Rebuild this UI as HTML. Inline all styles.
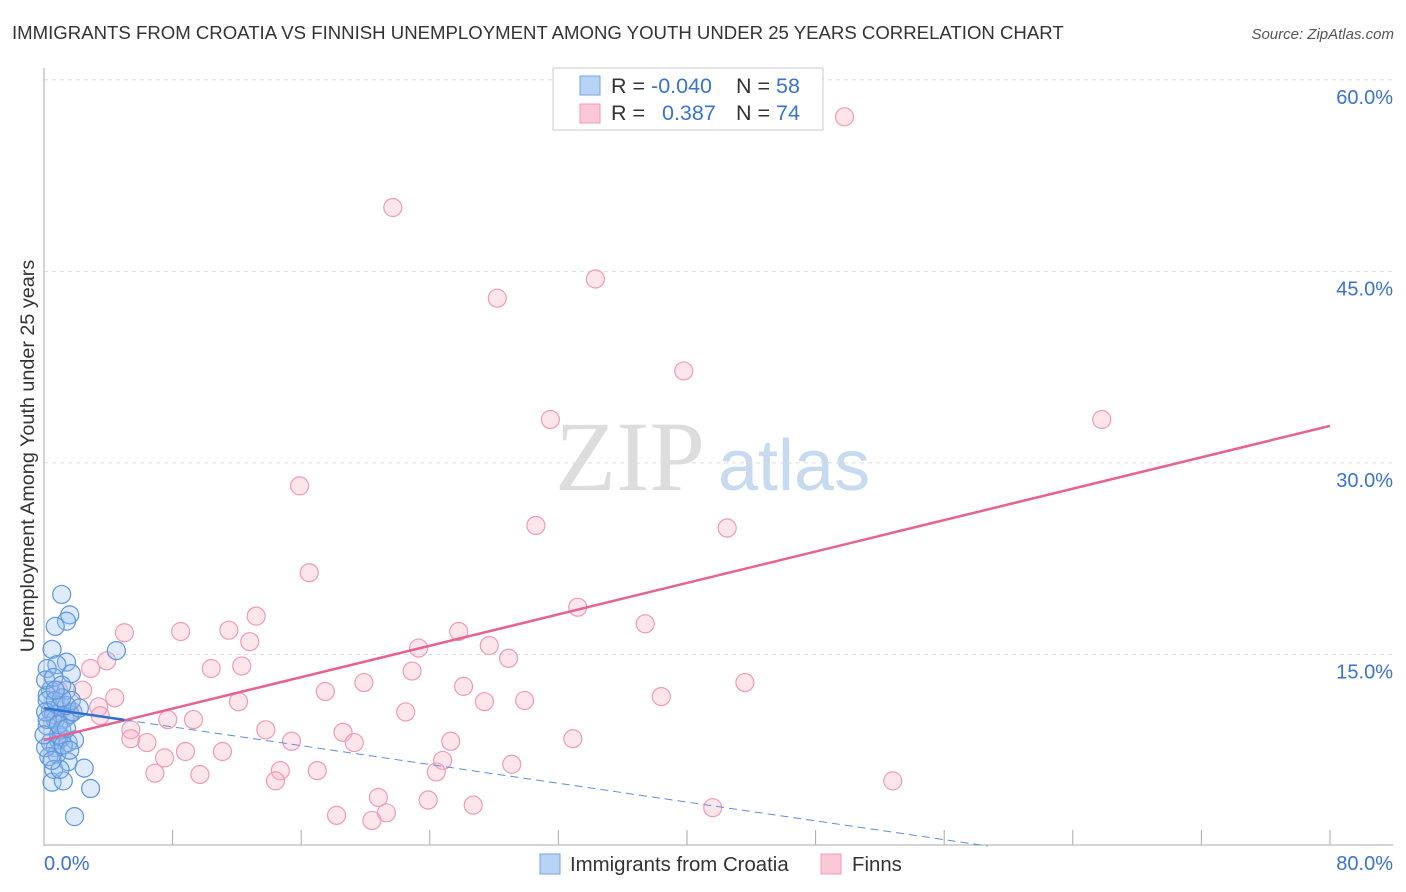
<!DOCTYPE html>
<html><head><meta charset="utf-8"><style>
body{margin:0;background:#fff;font-family:"Liberation Sans",sans-serif;}
#wrap{position:relative;width:1406px;height:892px;overflow:hidden;}
</style></head><body>
<div id="wrap">
<svg id="svg" width="1406" height="892" xmlns="http://www.w3.org/2000/svg">
<text x="12" y="39" font-size="18.6" fill="#333">IMMIGRANTS FROM CROATIA VS FINNISH UNEMPLOYMENT AMONG YOUTH UNDER 25 YEARS CORRELATION CHART</text>
<text x="1394" y="39" font-size="15" fill="#555" font-style="italic" text-anchor="end">Source: ZipAtlas.com</text>
<text x="555" y="490" font-size="100" fill="#ddd" font-family="Liberation Serif,serif">ZIP</text>
<text x="718" y="490" font-size="72" fill="#c8daf0">atlas</text>
<text transform="translate(34,456) rotate(-90)" font-size="19.8" fill="#333" text-anchor="middle">Unemployment Among Youth under 25 years</text>
<g id="grid"></g><g id="pts"></g><g id="lines"></g>
<g>
<rect x="553" y="68" width="270" height="62" fill="#fff" stroke="#ccc"/>
<rect x="580" y="76" width="20" height="19" fill="#b8d3f5" stroke="#6fa4e6"/>
<rect x="580" y="104" width="20" height="19" fill="#fcc8d8" stroke="#f09ab5"/>
<text x="611" y="93" font-size="21.5" fill="#333">R = <tspan fill="#3a72d0">-0.040</tspan></text>
<text x="736" y="93" font-size="21.5" fill="#333">N = <tspan fill="#3a72d0">58</tspan></text>
<text x="611" y="120" font-size="21.5" fill="#333">R = </text>
<text x="662" y="120" font-size="21.5" fill="#3a72d0">0.387</text>
<text x="736" y="120" font-size="21.5" fill="#333">N = <tspan fill="#3a72d0">74</tspan></text>
</g>
<g>
<rect x="540" y="854" width="20" height="20" fill="#b8d3f5" stroke="#6fa4e6"/>
<text x="570" y="871" font-size="20.4" fill="#333">Immigrants from Croatia</text>
<rect x="821" y="854" width="20" height="20" fill="#fcc8d8" stroke="#f09ab5"/>
<text x="852" y="871" font-size="20.4" fill="#333">Finns</text>
</g>
</svg>
</div>
<script>
const xTicks=[0,8,16,24,32,40,48,56,64,72,80];
const yTicks=[15,30,45,60];
const yTickLabels=["15.0%","30.0%","45.0%","60.0%"];
const xEndLabels=["0.0%","80.0%"];
const croatiaX=[1.1,1.6,1.4,0.7,0.5,4.5,1.4,0.8,1.7,0.2,0.4,0.2,1.4,0.4,0.6,1.0,1.3,1.6,0.7,1.8,0.2,0.4,0.7,0.9,1.1,1.5,1.9,0.8,1.5,2.5,0.5,1.2,2.9,1.9,0.2,0.1,0.7,1.1,0.9,1.2,0.3,0.6,1.0,0.1,0.6,1.1,1.4,1.7,2.2,0.1,0.5,1.6,0.2,0.9,0.0,1.1,1.4,0.7];
const croatiaY=[19.7,18.1,17.6,17.2,15.4,15.3,14.4,14.2,13.5,13.9,12.2,11.8,12.2,10.6,10.3,11.0,10.0,10.3,9.9,10.5,9.4,8.1,7.7,8.3,8.5,8.1,8.3,7.2,6.6,6.1,5.0,5.1,4.5,2.3,11.4,10.5,11.4,9.1,8.7,7.9,7.0,6.0,6.0,13.0,13.2,12.6,11.0,11.4,10.8,7.7,6.7,7.5,9.9,9.5,8.7,11.6,9.2,12.2];
const finnsX=[49.8,21.7,34.3,28.2,39.8,31.5,65.8,15.9,30.6,42.5,16.5,33.2,13.2,37.4,5.0,8.5,11.5,12.8,25.8,23.3,27.7,10.4,12.3,2.9,3.9,28.9,22.9,19.9,26.1,43.6,2.4,4.4,17.5,12.1,27.4,29.9,38.4,3.4,22.5,7.7,9.3,5.4,13.8,18.6,32.9,5.4,6.4,15.4,19.3,25.3,11.1,8.8,7.5,24.8,29.1,6.9,9.7,14.7,17.0,24.4,14.4,52.8,20.8,23.9,26.7,41.6,18.2,21.3,20.4,0.5,1.0,1.6,3.5,0.9];
const finnsY=[57.1,50.0,44.4,42.9,37.2,33.4,33.4,28.2,25.1,24.9,21.4,18.7,18.0,17.4,16.7,16.8,16.9,16.0,16.8,15.5,15.7,13.9,14.1,13.9,14.5,14.7,13.7,12.8,12.5,12.8,12.2,11.6,12.1,11.3,11.3,11.4,11.7,10.9,10.5,9.9,9.9,9.1,9.1,8.9,8.4,8.4,8.1,8.2,8.1,8.2,7.4,7.4,6.9,6.7,6.4,5.7,5.6,5.9,5.9,5.8,5.1,5.1,3.8,3.6,3.2,3.0,2.4,2.6,2.0,9.9,10.6,10.5,10.2,12.2];
const finnsTrend=[8.3,32.9];      // y at x=0 and x=80
const croatiaTrend=[10.8,-0.184]; // intercept, slope
const croatiaSolidEnd=5;
const NS="http://www.w3.org/2000/svg";
const X=v=>44+v*(1286/80), Y=v=>846-v*12.77;
function mk(tag,attrs,parent){const e=document.createElementNS(NS,tag);for(const k in attrs)e.setAttribute(k,attrs[k]);parent.appendChild(e);return e;}
const grid=document.getElementById('grid'),pts=document.getElementById('pts'),lines=document.getElementById('lines');
yTicks.forEach((t,i)=>{
 const l=mk('line',{x1:44,x2:1393,y1:Y(t),y2:Y(t),stroke:'#ddd','stroke-dasharray':'4,4'},grid);
 
 
 const tx=mk('text',{x:1393,y:Y(t)+24,'font-size':20,fill:'#3a72d0','text-anchor':'end'},grid);
 tx.textContent=yTickLabels[i];
 
 
});
const ax=mk('line',{x1:44,x2:44,y1:68,y2:846,stroke:'#aaa'},grid);


const bx=mk('line',{x1:44,x2:1393,y1:845,y2:845,stroke:'#aaa'},grid);


xTicks.forEach(t=>{
 const l=mk('line',{x1:X(t),x2:X(t),y1:830,y2:845,stroke:'#aaa'},grid);
 
 
});
const xl0=mk('text',{x:44,y:870,'font-size':20,fill:'#3a72d0'},grid);xl0.textContent=xEndLabels[0];


const xl1=mk('text',{x:1393,y:870,'font-size':20,fill:'#3a72d0','text-anchor':'end'},grid);xl1.textContent=xEndLabels[1];


finnsX.forEach((v,i)=>{
 const c=mk('circle',{cx:X(v),cy:Y(finnsY[i]),r:9,fill:'rgba(248,180,200,0.35)',stroke:'#f09ab5','stroke-width':1.2},pts);
 
 
});
croatiaX.forEach((v,i)=>{
 const c=mk('circle',{cx:X(v),cy:Y(croatiaY[i]),r:9,fill:'rgba(150,190,240,0.3)',stroke:'#5b96de','stroke-width':1.2},pts);
 
 
});
const pl=mk('line',{x1:X(0),y1:Y(finnsTrend[0]),x2:X(80),y2:Y(finnsTrend[1]),stroke:'#e8628f','stroke-width':2.5},lines);


const zeroX=-croatiaTrend[0]/croatiaTrend[1];
const bd=mk('line',{x1:X(croatiaSolidEnd),y1:Y(croatiaTrend[0]+croatiaTrend[1]*croatiaSolidEnd),x2:X(zeroX),y2:Y(0),stroke:'#5b8fdc','stroke-width':1,'stroke-dasharray':'8,5'},lines);


const bs=mk('line',{x1:X(0),y1:Y(croatiaTrend[0]),x2:X(croatiaSolidEnd),y2:Y(croatiaTrend[0]+croatiaTrend[1]*croatiaSolidEnd),stroke:'#2f6fd0','stroke-width':2.5},lines);


</script>
</body></html>
